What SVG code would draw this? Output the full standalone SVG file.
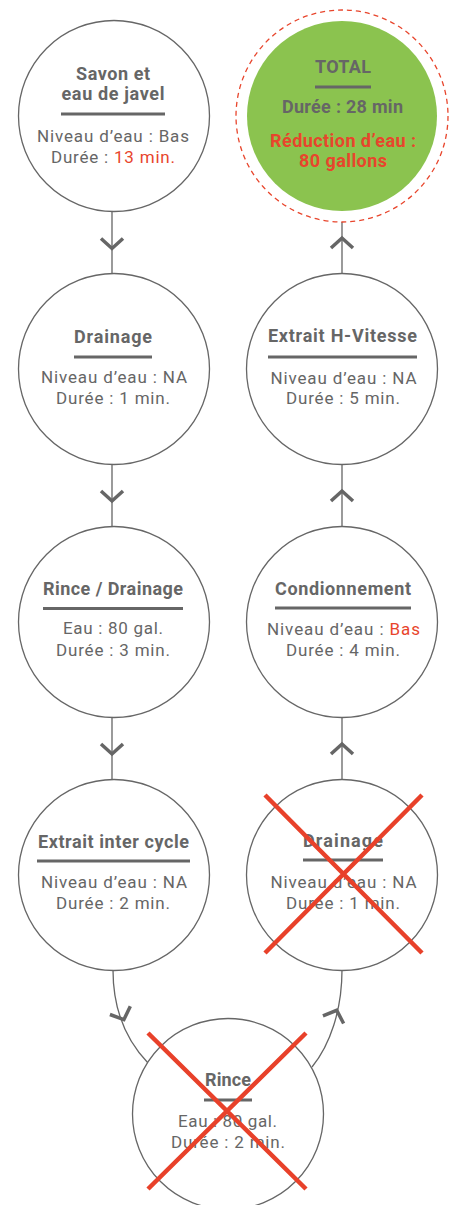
<svg xmlns="http://www.w3.org/2000/svg" width="456" height="1205" viewBox="0 0 456 1205">
<style>
.c{fill:#fff;stroke:#666;stroke-width:1.3}
.t{font-family:Roboto,"Liberation Sans",sans-serif;font-size:18px;font-weight:700;fill:#666;text-anchor:middle}
.b{font-family:Roboto,"Liberation Sans",sans-serif;font-size:17px;fill:#666;text-anchor:middle}
.r{fill:#e8452c}
.bar{fill:#666}
.ln{fill:none;stroke:#666;stroke-width:1.3}
.ch{fill:none;stroke:#666;stroke-width:3.5;stroke-linejoin:miter}
.x{stroke:#e8412a;stroke-width:4.5;stroke-linecap:butt}
</style>
<defs>
<path id="dn" d="M-11,-5 L0,5 L11,-5"/>
<path id="up" d="M-11,5 L0,-5 L11,5"/>
</defs>
<g id="connectors">
<path class="ln" d="M112,211 V274 M112,464 V527 M112,717 V780 M342,222 V274 M342,464 V527 M342,717 V780"/>
<path class="ln" d="M113,970 C113,1010 126,1040 148,1063"/>
<path class="ln" d="M312,1067 C330,1045 342,1010 342,970"/>
<use href="#dn" class="ch" x="112" y="243.5"/>
<use href="#dn" class="ch" x="112" y="496"/>
<use href="#dn" class="ch" x="112" y="749"/>
<use href="#up" class="ch" x="342" y="243"/>
<use href="#up" class="ch" x="342" y="496"/>
<use href="#up" class="ch" x="342" y="749"/>
<use href="#dn" class="ch" transform="translate(122,1015) rotate(-22)"/>
<use href="#up" class="ch" transform="translate(335,1015) rotate(20)"/>
</g>
<g id="n1">
<circle class="c" cx="114" cy="116" r="95.5"/>
<text class="t" x="113" y="80" textLength="74">Savon et</text>
<text class="t" x="113" y="100" textLength="103">eau de javel</text>
<rect class="bar" x="61" y="112.5" width="104" height="3"/>
<text class="b" x="113" y="142" textLength="152">Niveau d’eau : Bas</text>
<text class="b" x="113" y="163" textLength="124">Durée : <tspan class="r">13 min.</tspan></text>
</g>
<g id="n2">
<circle class="c" cx="114" cy="369" r="95.5"/>
<text class="t" x="113" y="343" textLength="78">Drainage</text>
<rect class="bar" x="74" y="355.5" width="78" height="3"/>
<text class="b" x="114" y="383" textLength="146">Niveau d’eau : NA</text>
<text class="b" x="113" y="404" textLength="114">Durée : 1 min.</text>
</g>
<g id="n3">
<circle class="c" cx="114" cy="622" r="95.5"/>
<text class="t" x="113" y="595" textLength="140">Rince / Drainage</text>
<rect class="bar" x="43" y="607" width="140" height="3"/>
<text class="b" x="113" y="634" textLength="100">Eau : 80 gal.</text>
<text class="b" x="113" y="656" textLength="114">Durée : 3 min.</text>
</g>
<g id="n4">
<circle class="c" cx="114" cy="875" r="95.5"/>
<text class="t" x="113.5" y="848" textLength="151">Extrait inter cycle</text>
<rect class="bar" x="37" y="859.5" width="153" height="3"/>
<text class="b" x="114" y="888" textLength="146">Niveau d’eau : NA</text>
<text class="b" x="113" y="909" textLength="114">Durée : 2 min.</text>
</g>
<g id="n5">
<circle class="c" cx="228" cy="1114" r="95.5"/>
<text class="t" x="228" y="1086" textLength="46">Rince</text>
<rect class="bar" x="204" y="1098.5" width="48" height="3"/>
<text class="b" x="227.5" y="1127" textLength="99">Eau : 80 gal.</text>
<text class="b" x="228" y="1148" textLength="114">Durée : 2 min.</text>
<path class="x" d="M148,1033 L306,1189 M306,1033 L148,1189"/>
</g>
<g id="n6">
<circle class="c" cx="342" cy="875" r="95.5"/>
<text class="t" x="343" y="847" textLength="80">Drainage</text>
<rect class="bar" x="303" y="858.5" width="80" height="3"/>
<text class="b" x="343.5" y="888" textLength="146">Niveau d’eau : NA</text>
<text class="b" x="343" y="909" textLength="114">Durée : 1 min.</text>
<path class="x" d="M265,795 L422,953 M422,795 L265,953"/>
</g>
<g id="n7">
<circle class="c" cx="342" cy="622" r="95.5"/>
<text class="t" x="343" y="595" textLength="136">Condionnement</text>
<rect class="bar" x="275" y="606.5" width="136" height="3"/>
<text class="b" x="343.5" y="635" textLength="153">Niveau d’eau : <tspan class="r">Bas</tspan></text>
<text class="b" x="343" y="656" textLength="114">Durée : 4 min.</text>
</g>
<g id="n8">
<circle class="c" cx="342" cy="369" r="95.5"/>
<text class="t" x="342.5" y="342" textLength="149">Extrait H-Vitesse</text>
<rect class="bar" x="268" y="355.5" width="149" height="3"/>
<text class="b" x="343.5" y="384" textLength="146">Niveau d’eau : NA</text>
<text class="b" x="343" y="404" textLength="114">Durée : 5 min.</text>
</g>
<g id="n9">
<circle cx="342" cy="116" r="106" fill="none" stroke="#e8452c" stroke-width="1.3" stroke-dasharray="5 4"/>
<circle cx="342" cy="116" r="95" fill="#8bc34f"/>
<text class="t" x="343" y="73" textLength="56">TOTAL</text>
<rect class="bar" x="315" y="85.5" width="56" height="3"/>
<text class="t" x="342.5" y="113" textLength="121">Durée : 28 min</text>
<text class="t r" x="343" y="147" textLength="146">Réduction d’eau :</text>
<text class="t r" x="343" y="167" textLength="88">80 gallons</text>
</g>
</svg>
